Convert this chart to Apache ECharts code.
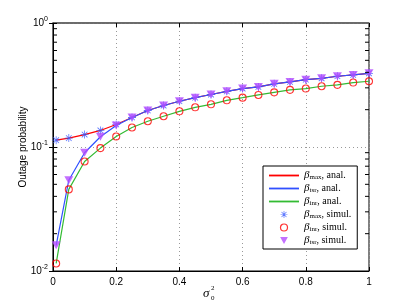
<!DOCTYPE html>
<html><head><meta charset="utf-8">
<script src="https://cdn.jsdelivr.net/npm/echarts@6/dist/echarts.min.js"></script>
<style>html,body{margin:0;padding:0;background:#fff}#c{width:408px;height:307px}</style>
</head><body><div id="c"></div>
<script>
const sigma2 = [0.01,0.05,0.1,0.15,0.2,0.25,0.3,0.35,0.4,0.45,0.5,0.55,0.6,0.65,0.7,0.75,0.8,0.85,0.9,0.95,1.0];
const betaMax = [0.1135,0.118,0.126,0.136,0.152,0.173,0.197,0.216,0.234,0.25,0.265,0.281,0.296,0.305,0.323,0.335,0.349,0.358,0.372,0.381,0.393];
const betaTsr = [0.0161,0.054,0.0898,0.121,0.149,0.173,0.197,0.216,0.234,0.25,0.265,0.281,0.296,0.305,0.323,0.335,0.349,0.358,0.372,0.381,0.393];
const betaInr = [0.0115,0.0455,0.0764,0.098,0.1216,0.1436,0.1614,0.177,0.194,0.209,0.221,0.238,0.250,0.263,0.276,0.289,0.296,0.309,0.317,0.331,0.339];
const xTicks = [0,0.2,0.4,0.6,0.8,1];
const yMinorTicks = [0.02,0.03,0.04,0.05,0.06,0.07,0.08,0.09,0.2,0.3,0.4,0.5,0.6,0.7,0.8,0.9];
const legendNames = ['maxA','tsrA','inrA','maxS','inrS','tsrS'];
const legendLabels = {
  maxA:['max','anal.'], tsrA:['tsr','anal.'], inrA:['inr','anal.'],
  maxS:['max','simul.'], inrS:['inr','simul.'], tsrS:['tsr','simul.']
};

const pair = a => sigma2.map((x,i)=>[x,a[i]]);
const ASTER = 'path://M-10,-1L10,-1L10,1L-10,1Z M-1,-10L1,-10L1,10L-1,10Z M-7.78,-6.36L-6.36,-7.78L7.78,6.36L6.36,7.78Z M-7.78,6.36L6.36,-7.78L7.78,-6.36L-6.36,7.78Z';
const LINEICON = 'path://M0,0L30,0L30,1.8L0,1.8Z';
const TRI = 'path://M0,0L10,0L5,9Z';
const FONT = 'Liberation Sans';
const SERIF = 'Liberation Serif';
const colors = {red:'#ff0000', blue:'#3050ff', green:'#33bb33', aster:'#3355ff', purple:'#b44cff'};

const chart = echarts.init(document.getElementById('c'), null, {renderer:'canvas'});
const lineS = (name, data, color) => ({
  name, type:'line', data:pair(data), symbol:'none', lineStyle:{color, width:1.2}, itemStyle:{color}, z:2, silent:true, animation:false
});
chart.setOption({
  animation:false,
  grid:{left:53, right:39, top:23, bottom:36, show:true, borderColor:'#000', borderWidth:1, backgroundColor:'transparent'},
  xAxis:[{
    type:'value', min:0, max:1, interval:0.2,
    axisLine:{show:true, lineStyle:{color:'#000'}},
    axisTick:{inside:true, length:4, lineStyle:{color:'#000'}},
    axisLabel:{fontFamily:FONT, fontSize:10, color:'#000', margin:6, formatter:v=>String(+v.toFixed(1))},
    splitLine:{show:true, lineStyle:{color:'#999', type:[1,3], width:1}}
  },{
    type:'value', min:0, max:1, interval:0.2, position:'top',
    axisLine:{show:true, lineStyle:{color:'#666', width:1.5}},
    axisTick:{inside:true, length:4, lineStyle:{color:'#000'}},
    axisLabel:{show:false}, splitLine:{show:false}
  }],
  yAxis:[{
    type:'log', logBase:10, min:0.01, max:1,
    name:'Outage probability', nameLocation:'middle', nameGap:25, nameMoveOverlap:false,
    nameTextStyle:{fontFamily:FONT, fontSize:10, color:'#000'},
    axisLine:{show:true, lineStyle:{color:'#666', width:1.5}},
    axisTick:{inside:true, length:4, lineStyle:{color:'#000'}},
    axisLabel:{color:'#000', margin:5, formatter:v=>'{b|10}{s|'+Math.round(Math.log10(v))+'}',
      rich:{b:{fontFamily:FONT, fontSize:10, color:'#000'}, s:{fontFamily:FONT, fontSize:7, color:'#000', padding:[0,0,7,0]}}},
    splitLine:{show:true, lineStyle:{color:'#999', type:[1,3], width:1}}
  },{
    type:'log', logBase:10, min:0.01, max:1, position:'right',
    axisLine:{show:true, lineStyle:{color:'#000'}},
    axisTick:{inside:true, length:4, lineStyle:{color:'#000'}},
    axisLabel:{show:false}, splitLine:{show:false}
  }],
  legend:{
    orient:'vertical', left:263, top:166, itemWidth:30, itemHeight:7, itemGap:2,
    padding:[4,6,3,6], borderColor:'#000', borderWidth:1, backgroundColor:'#fff',
    symbolKeepAspect:true,
    data:[
      {name:'maxA', icon:LINEICON},
      {name:'tsrA', icon:LINEICON},
      {name:'inrA', icon:LINEICON},
      {name:'maxS', icon:ASTER},
      {name:'inrS', icon:'circle', itemStyle:{color:'transparent', borderColor:colors.red, borderWidth:1.2}},
      {name:'tsrS', icon:TRI}
    ],
    selectedMode:false,
    formatter:n=>'{b|β}{s|'+legendLabels[n][0]+'}{t|, '+legendLabels[n][1]+'}',
    textStyle:{rich:{
      b:{fontFamily:SERIF, fontStyle:'italic', fontSize:11, lineHeight:12, color:'#000'},
      s:{fontFamily:SERIF, fontSize:7, lineHeight:8, color:'#000', padding:[4,0,0,0]},
      t:{fontFamily:SERIF, fontSize:10, lineHeight:12, color:'#000'}
    }}
  },
  series:[
    lineS('maxA', betaMax, colors.red),
    lineS('tsrA', betaTsr, colors.blue),
    lineS('inrA', betaInr, colors.green),
    {name:'maxS', type:'scatter', data:pair(betaMax), symbol:ASTER, symbolSize:8, itemStyle:{color:colors.aster}, z:3, animation:false},
    {name:'inrS', type:'scatter', data:pair(betaInr), symbol:'circle', symbolSize:7, itemStyle:{color:'transparent', borderColor:colors.red, borderWidth:1.1}, z:4, animation:false},
    {name:'tsrS', type:'scatter', data:pair(betaTsr), symbol:'triangle', symbolRotate:180, symbolSize:[9,8], itemStyle:{color:colors.purple}, z:5, animation:false},
    {type:'custom', silent:true, z:6, data:yMinorTicks.map(v=>[0,v]),
      renderItem:(params, api)=>{
        const v = api.value(1);
        const p0 = api.coord([0,v]); const p1 = api.coord([1,v]);
        return {type:'group', children:[
          {type:'line', shape:{x1:p0[0], y1:p0[1], x2:p0[0]+4, y2:p0[1]}, style:{stroke:'#000', lineWidth:1}},
          {type:'line', shape:{x1:p1[0]-4, y1:p1[1], x2:p1[0], y2:p1[1]}, style:{stroke:'#000', lineWidth:1}}
        ]};
      }}
  ],
  graphic:[
    {type:'text', left:203, top:287, style:{text:'σ', font:'italic 13px '+SERIF, fill:'#000'}},
    {type:'text', left:211, top:285, style:{text:'2', font:'7px '+SERIF, fill:'#000'}},
    {type:'text', left:211, top:295, style:{text:'0', font:'7px '+SERIF, fill:'#000'}}
  ]
});
</script></body></html>
